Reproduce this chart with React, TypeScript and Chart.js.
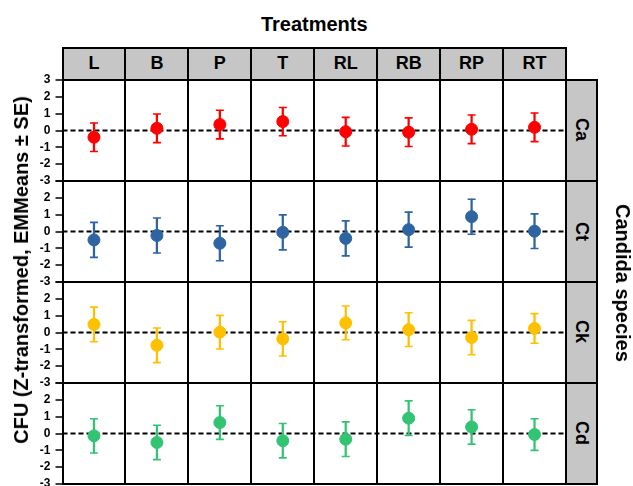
import React, { useEffect, useRef } from 'react';
import { Chart, registerables } from 'chart.js';

Chart.register(...registerables);

// ---------- data ----------
const treatments = ['L', 'B', 'P', 'T', 'RL', 'RB', 'RP', 'RT'];
const species = ['Ca', 'Ct', 'Ck', 'Cd'];
const speciesColors = ['#ff0000', '#2e64a2', '#ffc000', '#33c473'];
const yTickValues = [-3, -2, -1, 0, 1, 2, 3];

const caMeans = [-0.40, 0.13, 0.35, 0.53, -0.07, -0.10, 0.07, 0.19];
const caSE = [0.85, 0.85, 0.85, 0.84, 0.85, 0.85, 0.85, 0.85];
const ctMeans = [-0.50, -0.24, -0.70, -0.05, -0.41, 0.11, 0.88, 0.02];
const ctSE = [1.04, 1.04, 1.04, 1.04, 1.04, 1.04, 1.04, 1.03];
const ckMeans = [0.48, -0.76, 0.02, -0.38, 0.57, 0.17, -0.30, 0.24];
const ckSE = [1.03, 1.03, 1.00, 1.02, 1.00, 1.00, 1.02, 0.88];
const cdMeans = [-0.14, -0.53, 0.65, -0.43, -0.34, 0.91, 0.39, -0.06];
const cdSE = [1.02, 1.02, 1.00, 1.02, 1.03, 1.03, 1.02, 0.94];

const allMeans = [caMeans, ctMeans, ckMeans, cdMeans];
const allSE = [caSE, ctSE, ckSE, cdSE];

// ---------- layout ----------
const W = 633;
const H = 486;
const PL = 62.5;
const PR = 566;
const PT = 79.5;
const ROWH = 101;
const STRIP_TOP = 48;
const RSTRIP_R = 597;
const PAD = 14;
const FONT = '"Liberation Sans", Arial, Helvetica, sans-serif';
const STRIP_BG = '#c6c6c6';

const zeroLine = {
  id: 'zeroLine',
  beforeDatasetsDraw(chart: any) {
    const { ctx, chartArea, scales } = chart;
    const y = scales.y.getPixelForValue(0);
    ctx.save();
    ctx.strokeStyle = '#000';
    ctx.lineWidth = 2;
    ctx.setLineDash([5, 3]);
    ctx.beginPath();
    ctx.moveTo(chartArea.left, y);
    ctx.lineTo(chartArea.right, y);
    ctx.stroke();
    ctx.restore();
  },
};

function RowChart({ row }: { row: number }) {
  const ref = useRef<HTMLCanvasElement | null>(null);
  useEffect(() => {
    if (!ref.current) return;
    const m = allMeans[row];
    const s = allSE[row];
    const color = speciesColors[row];
    const highs = m.map((v, i) => v + s[i]);
    const lows = m.map((v, i) => v - s[i]);
    const chart = new Chart(ref.current, {
      type: 'bar',
      data: {
        labels: treatments,
        datasets: [
          {
            type: 'bar',
            data: m.map((_, i) => [lows[i], highs[i]]) as any,
            backgroundColor: color,
            borderWidth: 0,
            barThickness: 1.6,
            order: 4,
          } as any,
          {
            type: 'line',
            data: highs,
            showLine: false,
            pointStyle: 'line',
            pointRadius: 4,
            pointBorderWidth: 1.6,
            borderColor: color,
            pointBorderColor: color,
            order: 3,
          } as any,
          {
            type: 'line',
            data: lows,
            showLine: false,
            pointStyle: 'line',
            pointRadius: 4,
            pointBorderWidth: 1.6,
            borderColor: color,
            pointBorderColor: color,
            order: 2,
          } as any,
          {
            type: 'line',
            data: m,
            showLine: false,
            pointStyle: 'circle',
            pointRadius: 6,
            pointBorderWidth: 1,
            borderColor: color,
            pointBackgroundColor: color,
            pointBorderColor: color,
            order: 1,
          } as any,
        ],
      },
      options: {
        responsive: false,
        animation: false,
        events: [],
        layout: { padding: { left: 0, right: W - PR, top: PAD, bottom: PAD } },
        plugins: { legend: { display: false }, tooltip: { enabled: false } },
        scales: {
          x: {
            offset: true,
            ticks: { display: false },
            grid: { offset: true, color: '#000', lineWidth: 2, drawTicks: false },
            border: { display: false },
            afterFit: (sc: any) => {
              sc.height = 0;
            },
          },
          y: {
            min: -3,
            max: 3,
            afterBuildTicks: (sc: any) => {
              sc.ticks = yTickValues.map((v) => ({ value: v }));
            },
            ticks: {
              autoSkip: false,
              font: { family: FONT, size: 12, weight: 'bold' },
              color: '#000',
              padding: 5,
              callback: (v: any) => (row > 0 && Number(v) === 3 ? '' : String(v)),
            },
            grid: {
              color: (c: any) =>
                c.tick && Math.abs(c.tick.value) === 3 ? '#000' : 'rgba(0,0,0,0)',
              lineWidth: 2,
              tickColor: '#000',
              tickLength: 7,
              tickWidth: 1.5,
            },
            border: { display: true, color: '#000', width: 2 },
            afterFit: (sc: any) => {
              sc.width = PL;
            },
          },
        },
      } as any,
      plugins: [zeroLine],
    });
    return () => chart.destroy();
  }, [row]);

  const top = PT + row * ROWH - PAD;
  return (
    <canvas
      ref={ref}
      width={W}
      height={ROWH + 2 * PAD}
      style={{ position: 'absolute', left: 0, top, width: W, height: ROWH + 2 * PAD }}
    />
  );
}

export default function App() {
  const cw = (PR - PL) / treatments.length;
  return (
    <div
      style={{
        position: 'fixed',
        left: 0,
        top: 0,
        width: W,
        height: H,
        overflow: 'hidden',
        background: '#fff',
        fontFamily: FONT,
      }}
    >
      <div
        style={{
          position: 'absolute',
          left: PL,
          width: PR - PL,
          top: 12,
          lineHeight: '24px',
          fontSize: 20,
          fontWeight: 'bold',
          textAlign: 'center',
          color: '#000',
        }}
      >
        Treatments
      </div>

      {treatments.map((t, i) => (
        <div
          key={t}
          style={{
            position: 'absolute',
            left: PL + i * cw - 1,
            top: STRIP_TOP - 1,
            width: cw + 2,
            height: PT - STRIP_TOP + 2,
            boxSizing: 'border-box',
            border: '2px solid #000',
            background: STRIP_BG,
            display: 'flex',
            alignItems: 'center',
            justifyContent: 'center',
            fontSize: 18,
            fontWeight: 'bold',
            color: '#000',
          }}
        >
          {t}
        </div>
      ))}

      {species.map((sp, r) => (
        <div
          key={sp}
          style={{
            position: 'absolute',
            left: PR - 1,
            top: PT + r * ROWH - 1,
            width: RSTRIP_R - PR + 2,
            height: ROWH + 2,
            boxSizing: 'border-box',
            border: '2px solid #000',
            background: STRIP_BG,
            display: 'flex',
            alignItems: 'center',
            justifyContent: 'center',
            fontSize: 18,
            fontWeight: 'bold',
            color: '#000',
          }}
        >
          <span style={{ writingMode: 'vertical-rl' as any }}>{sp}</span>
        </div>
      ))}

      {species.map((sp, r) => (
        <RowChart key={sp} row={r} />
      ))}

      <div
        style={{
          position: 'absolute',
          left: 21,
          top: 270,
          transform: 'translate(-50%, -50%) rotate(-90deg)',
          whiteSpace: 'nowrap',
          fontSize: 20,
          fontWeight: 'bold',
          lineHeight: '24px',
          color: '#000',
        }}
      >
        CFU (Z-transformed, EMMeans ± SE)
      </div>

      <div
        style={{
          position: 'absolute',
          left: 622.5,
          top: 282.5,
          transform: 'translate(-50%, -50%) rotate(90deg)',
          whiteSpace: 'nowrap',
          fontSize: 20,
          fontWeight: 'bold',
          lineHeight: '24px',
          color: '#000',
        }}
      >
        Candida species
      </div>
    </div>
  );
}
